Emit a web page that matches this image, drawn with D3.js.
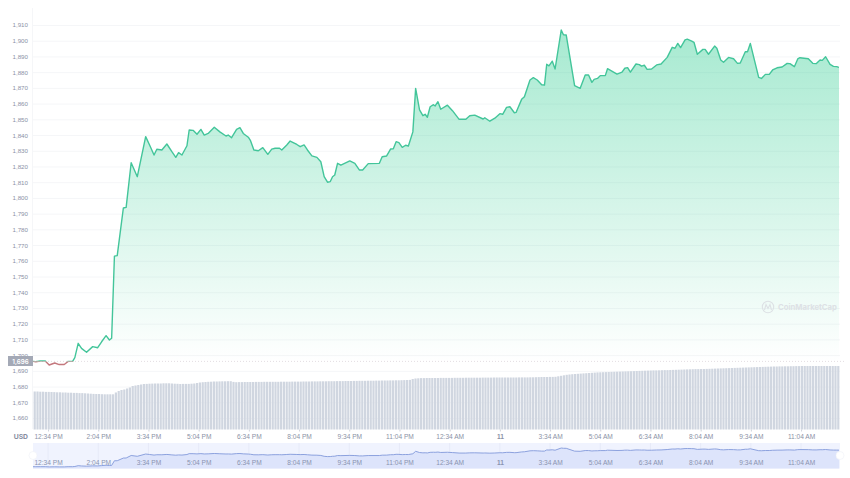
<!DOCTYPE html>
<html>
<head>
<meta charset="utf-8">
<script src="https://cdnjs.cloudflare.com/ajax/libs/d3/7.8.5/d3.min.js"></script>
<style>
html, body { margin: 0; padding: 0; background: #fff; }
svg { display: block; font-family: Inter, "Noto Sans", sans-serif; }
.axis path { display: none; }
.axis text { fill: #8b92a6; font-size: 6.2px; }
.axis.time text { font-size: 6.6px; }
.axis line { stroke: #cfd3dc; }
.grid line { stroke: #f5f6f8; }
</style>
</head>
<body>
<div id="chart"></div>
<script>
// minutes since 12:07 PM
var minutes = [0,5,13,22,29,39,47,56,63,71,75,81,87,96,107,116,123,131,137,141,146,151,162,167,176,187,
    202,209,217,222,231,240,249,256,261,267,276,280,287,294,301,307,314,325,335,346,350,356,365,371,377,
    386,390,396,404,412,421,428,434,442,446,455,461,473,479,486,492,500,509,516,522,528,533,537,541,546,
    552,568,577,585,591,601,621,626,634,641,646,651,656,662,668,673,681,686,693,699,703,707,712,718,721,
    726,731,743,752,764,776,783,792,807,810,819,828,837,842,849,855,863,866,876,881,891,897,904,912,917,
    921,925,931,936,947,951,956,971,981,990,996,1002,1006,1012,1017,1026,1030,1047,1056,1061,1066,1071,
    1081,1087,1091,1096,1101,1109,1118,1126,1137,1146,1151,1156,1161,1169,1173,1181,1185,1191,1201,1205,
    1211,1222,1226,1233,1238,1247,1256,1263,1268,1277,1281,1286,1301,1306,1313,1320,1326,1334,1343,1352,
    1357,1365,1371,1375,1390,1398,1404,1411,1415,1421,1429,1435,1441,1445];

var prices = [1696,1695.8,1696.3,1696.3,1693.7,1695,1694,1694,1696,1696,1698.4,1707.5,1704.3,1701.8,1705.4,1704.7,
    1708.5,1712.4,1709.6,1710.7,1763,1763.3,1793.6,1794,1822.4,1813.5,
    1839,1833.7,1827.3,1831,1830.5,1834.3,1829.4,1825.8,1828.8,1827.3,1833.2,1843.2,1843,1840.5,1843.6,1840,1841,1845,
    1842,1839.4,1840,1838.3,1843.6,1844.7,1841,
    1838.6,1836.4,1830.5,1830,1832,1827.7,1831,1831.6,1831.6,1830.5,1833.7,1836.2,1834,1832.6,1833.7,1830.5,1826.7,1825.8,1823,1813.5,
    1810,1810.4,1813.5,1814.6,1822,
    1820.8,1823.5,1822,1817.8,1817.8,1821.8,1822,1826.2,1826.7,1831.1,1831.3,1835.8,1835.2,1832.2,1833.5,1833,1842,1869.7,1856,1852.3,
    1853.2,1851.3,1858,1859.3,1858.5,
    1861.2,1856.4,1859,1855.5,1850,1850,1852.3,1852.7,1850.2,1851,1848.8,1850.7,1853.6,1853.2,1857.6,1858,1854.2,1854.4,1862.7,1864.4,
    1875,1876.5,1875,1872,1871.8,
    1885,1884,1887,1882,1906.8,1903.8,1903.6,1871.4,1869.7,1878.2,1878.2,1873.5,1875.4,1876,1877.8,1877.8,1882.2,1878.8,1880,1882.5,1882.9,1880,
    1885.2,1884.8,1883.8,1884.4,1881.8,1882,1884.6,1885.2,1889.4,1895.8,1895.2,1898.3,1895.6,1900.5,1901,1899.8,1899,1891.4,1894.5,1894.5,
    1891.4,1896.6,1895.2,1887.7,1886.3,1889.4,1888.5,1885.6,1885.8,1893,1893,1898.3,1876.7,1876,1878.6,1878.6,1881.4,1882.8,1883.3,1885.6,
    1885.4,1883.5,1888.4,1889.2,1888.5,1885.6,1885.4,1887.7,1887.5,1889.8,1885,1883.7,1883.5,1883];

// one bar every 5 minutes
var volumes = [38,38,37.8,37.8,37.6,37.6,37.5,37.4,37.2,37.2,37,37,
    36.8,36.8,36.6,36.6,36.4,36.4,36.2,36,35.8,35.6,35.5,35.5,
    35.3,35.2,35.2,35.2,35.2,37,38.5,39.5,40,41,42,43.5,
    44,44.5,45,45.5,45.6,45.8,45.9,46,46,46,46.2,46.2,
    46.2,46,45.8,45.7,45.5,45.6,45.6,45.6,45.8,46,46.5,47,
    47.3,47.5,47.7,47.8,48,48,48.1,48.2,48.2,48.3,48.3,47.6,
    47.3,47.4,47.4,47.5,47.5,47.5,47.5,47.6,47.6,47.6,47.7,47.7,
    47.7,47.7,47.7,47.7,47.8,47.8,47.8,47.8,47.9,47.9,47.9,47.9,
    48,48,48,48.1,48.1,48.1,48.2,48.2,48.2,48.3,48.3,48.3,
    48.4,48.4,48.4,48.5,48.5,48.5,48.6,48.6,48.7,48.7,48.7,48.8,
    48.8,48.8,48.9,48.9,49,49,49,49.1,49.1,49.2,49.2,49.3,
    49.4,49.5,49.6,50.5,51,51.2,51.4,51.4,51.5,51.5,51.5,51.5,
    51.5,51.6,51.6,51.6,51.6,51.6,51.7,51.7,51.7,51.7,51.8,51.8,
    51.8,51.8,51.8,51.8,51.9,51.9,51.9,51.9,52,52,52,52,
    52,52,52,52,52,52.1,52.1,52.1,52.1,52.2,52.2,52.3,
    52.4,52.5,52.5,52.5,52.6,52.6,52.7,53.2,53.7,54.2,54.7,55,
    55.3,55.5,55.7,55.9,56.1,56.3,56.5,56.7,56.9,57.1,57.2,57.3,
    57.4,57.5,57.6,57.7,57.8,57.9,58,58.1,58.2,58.3,58.4,58.5,
    58.6,58.7,58.8,58.9,59,59.1,59.1,59.2,59.3,59.4,59.4,59.5,
    59.6,59.7,59.8,59.9,60,60.1,60.2,60.3,60.4,60.4,60.5,60.5,
    60.6,60.7,60.8,60.9,61,61.1,61.2,61.3,61.4,61.5,61.6,61.7,
    61.8,61.9,62,62.1,62.2,62.3,62.4,62.5,62.6,62.7,62.8,62.9,
    63,63,63.1,63.1,63.2,63.2,63.3,63.3,63.4,63.4,63.5,63.5,
    63.5,63.5,63.5,63.5,63.5,63.5,63.5,63.5,63.5,63.5,63.5,63.5];

var tickMinutes = [27,117,207,297,387,477,567,657,747,837,927,1017,1107,1197,1287,1377];
var tickLabels = ["12:34 PM","2:04 PM","3:34 PM","5:04 PM","6:34 PM","8:04 PM","9:34 PM","11:04 PM",
    "12:34 AM","11","3:34 AM","5:04 AM","6:34 AM","8:04 AM","9:34 AM","11:04 AM"];
var priceTicks = d3.range(1660, 1911, 10);
var basePrice = 1696;

var width = 850, height = 478;
var left = 33, right = 839;

var svg = d3.select("#chart").append("svg").attr("width", width).attr("height", height);
var defs = svg.append("defs");

var x = d3.scaleLinear().domain([0, 1445]).range([left, right]);
var y = d3.scaleLinear().domain([1660, 1910]).range([418, 25]);
var yVol = d3.scaleLinear().domain([0, 64]).range([429.5, 365.5]);
var yMini = d3.scaleLinear().domain([1696, 1907]).range([466.7, 448]);
var xBar = d3.scaleBand().domain(d3.range(volumes.length)).range([left, right + 1]).padding(0.22);

var data = minutes.map(function(m, i) { return { m: m, p: prices[i] }; });

// gradient and clips, green above the first price and red under it
var grad = defs.append("linearGradient").attr("id", "green")
    .attr("gradientUnits", "userSpaceOnUse")
    .attr("x1", 0).attr("x2", 0).attr("y1", y(1907)).attr("y2", y(basePrice));
grad.append("stop").attr("offset", 0).attr("stop-color", "#16c784").attr("stop-opacity", 0.38);
grad.append("stop").attr("offset", 1).attr("stop-color", "#16c784").attr("stop-opacity", 0);

defs.append("clipPath").attr("id", "above").append("rect")
    .attr("x", left).attr("y", 0).attr("width", right - left).attr("height", y(basePrice));
defs.append("clipPath").attr("id", "below").append("rect")
    .attr("x", left).attr("y", y(basePrice)).attr("width", right - left).attr("height", 40);

// grid
svg.append("g").attr("class", "grid")
    .selectAll("line").data(priceTicks).enter().append("line")
    .attr("x1", left).attr("x2", right + 1)
    .attr("y1", function(d) { return y(d) + 0.5; })
    .attr("y2", function(d) { return y(d) + 0.5; });

svg.append("line").attr("x1", left - 0.5).attr("x2", left - 0.5).attr("y1", 8).attr("y2", 429)
    .attr("stroke", "#f5f6f8");

var area = d3.area().x(function(d) { return x(d.m); }).y0(y(basePrice)).y1(function(d) { return y(d.p); });
var line = d3.line().x(function(d) { return x(d.m); }).y(function(d) { return y(d.p); });

svg.append("path").datum(data).attr("d", area).attr("fill", "url(#green)").attr("clip-path", "url(#above)");

// volume bars
svg.append("g").selectAll("rect").data(volumes).enter().append("rect")
    .attr("x", function(d, i) { return xBar(i); })
    .attr("width", xBar.bandwidth())
    .attr("y", function(d) { return yVol(d); })
    .attr("height", function(d) { return yVol(0) - yVol(d); })
    .attr("fill", "#d0d6e0");

// baseline
svg.append("line").attr("x1", left).attr("x2", width - 4)
    .attr("y1", y(basePrice)).attr("y2", y(basePrice))
    .attr("stroke", "#dcd6da").attr("stroke-width", 0.8).attr("stroke-dasharray", "1 2");

svg.append("path").datum(data).attr("d", line).attr("fill", "none")
    .attr("stroke", "#43c59a").attr("stroke-width", 1.4).attr("stroke-linejoin", "round")
    .attr("clip-path", "url(#above)");
svg.append("path").datum(data).attr("d", line).attr("fill", "none")
    .attr("stroke", "#c4787e").attr("stroke-width", 1.4).attr("stroke-linejoin", "round")
    .attr("clip-path", "url(#below)");

// y axis
svg.append("g").attr("class", "axis").attr("transform", "translate(" + left + ",0)")
    .call(d3.axisLeft(y).tickValues(priceTicks).tickSize(0).tickPadding(5).tickFormat(d3.format(",")));

// price tag
svg.append("rect").attr("x", 8).attr("y", y(basePrice) - 5.4).attr("width", 25).attr("height", 10)
    .attr("fill", "#a4a9b6");
svg.append("text").attr("x", 20.5).attr("y", y(basePrice) + 2.1).attr("text-anchor", "middle")
    .attr("fill", "#fff").attr("font-size", "6.2px").attr("font-weight", 600).text("1,696");

// x axis
function label(d, i) { return tickLabels[i]; }
var xAxis = svg.append("g").attr("class", "axis time").attr("transform", "translate(0,429.5)")
    .call(d3.axisBottom(x).tickValues(tickMinutes).tickSize(2).tickPadding(2.5).tickFormat(label));
xAxis.selectAll("text").filter(function(d, i) { return tickLabels[i] == "11"; }).attr("font-weight", 700);

svg.append("text").attr("x", 28).attr("y", 438.5).attr("text-anchor", "end")
    .attr("fill", "#858ca0").attr("font-size", "6.8px").attr("font-weight", 700).text("USD");

// navigator
svg.append("rect").attr("x", left).attr("y", 443).attr("width", right - left + 1).attr("height", 25.5)
    .attr("fill", "#f0f3fe");

svg.append("g").selectAll("line").data(tickMinutes).enter().append("line")
    .attr("x1", function(d) { return x(d); }).attr("x2", function(d) { return x(d); })
    .attr("y1", 443).attr("y2", 468.5).attr("stroke", "#e6eaf8");

var miniArea = d3.area().x(function(d) { return x(d.m); }).y0(468.5).y1(function(d) { return yMini(d.p); });
var miniLine = d3.line().x(function(d) { return x(d.m); }).y(function(d) { return yMini(d.p); });

svg.append("path").datum(data).attr("d", miniArea).attr("fill", "#dde4fb");
svg.append("path").datum(data).attr("d", miniLine).attr("fill", "none")
    .attr("stroke", "#8198da").attr("stroke-width", 0.9);

var miniAxis = svg.append("g").attr("class", "axis time").attr("transform", "translate(0,455.5)")
    .call(d3.axisBottom(x).tickValues(tickMinutes).tickSize(0).tickPadding(5).tickFormat(label));
miniAxis.selectAll("text").style("fill", "#8a93b0");
miniAxis.selectAll("text").filter(function(d, i) { return tickLabels[i] == "11"; }).attr("font-weight", 700);

svg.selectAll(".handle").data([left, right + 1]).enter().append("circle")
    .attr("class", "handle").attr("cx", function(d) { return d; }).attr("cy", 455.5).attr("r", 4)
    .attr("fill", "#fff").attr("stroke", "#eef0f6").attr("stroke-width", 0.6);

// watermark
var mark = svg.append("g").attr("fill", "none").attr("stroke", "#dde1e5").attr("stroke-width", 1.1);
mark.append("circle").attr("cx", 768).attr("cy", 307).attr("r", 5.7);
mark.append("path").attr("d", "M764.5 310 L766 304.5 L768 308.5 L770 304.5 L771.5 310");
svg.append("text").attr("x", 778).attr("y", 310).attr("fill", "#dde1e5")
    .attr("font-size", "7.7px").attr("font-weight", 700).text("CoinMarketCap");
</script>
</body>
</html>
